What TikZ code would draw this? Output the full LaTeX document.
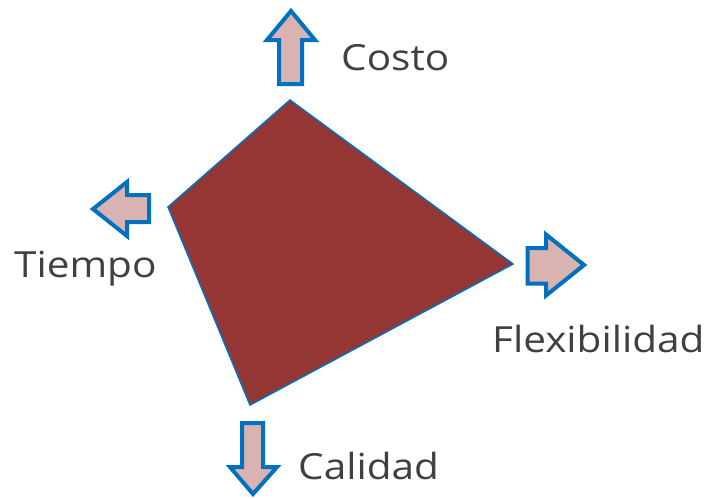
\documentclass[tikz,border=0pt]{standalone}
\usepackage{fontspec}
\setmainfont[FakeStretch=1.125]{Open Sans}
\definecolor{quadred}{HTML}{943634}
\definecolor{arrowfill}{HTML}{D9B3B2}
\definecolor{arrowline}{HTML}{0070C0}
\definecolor{labelgray}{HTML}{404040}
\begin{document}
\begin{tikzpicture}[x=1pt,y=-1pt,
  bigarrow/.style={draw=arrowline,fill=arrowfill,line width=4pt,line join=miter},
  quad/.style={draw=arrowline,fill=quadred,line width=1.5pt,line join=miter},
  lbl/.style={anchor=base west,inner sep=0pt,text=labelgray,font=\fontsize{36}{40}\selectfont}]
\useasboundingbox (0,0) rectangle (711,498);
% quadrilateral
\coordinate (qt) at (290,100);
\coordinate (ql) at (168,207);
\coordinate (qb) at (250,405);
\coordinate (qr) at (513,264);
\draw[quad] (qt) -- (ql) -- (qb) -- (qr) -- cycle;
% up arrow
\draw[bigarrow] (291,11) -- (315,40) -- (302,40) -- (302,84) -- (279,84) -- (279,40) -- (267,40) -- cycle;
% left arrow
\draw[bigarrow] (93,209) -- (127,182) -- (127,195) -- (149,195) -- (149,222) -- (127,222) -- (127,236) -- cycle;
% right arrow
\draw[bigarrow] (584,265) -- (546,234.5) -- (546,248) -- (527.5,248) -- (527.5,283.5) -- (546,283.5) -- (546,295.5) -- cycle;
% down arrow
\draw[bigarrow] (253,494) -- (277,467) -- (263,467) -- (263,423) -- (242,423) -- (242,467) -- (230,467) -- cycle;
% labels
\node[lbl] (costo) at (341,70.5) {Costo};
\node[lbl] (tiempo) at (14,277) {Tiempo};
\node[lbl] (flex) at (492,352) {Flexibilidad};
\node[lbl] (calidad) at (298,479.5) {Calidad};
\end{tikzpicture}
\end{document}
